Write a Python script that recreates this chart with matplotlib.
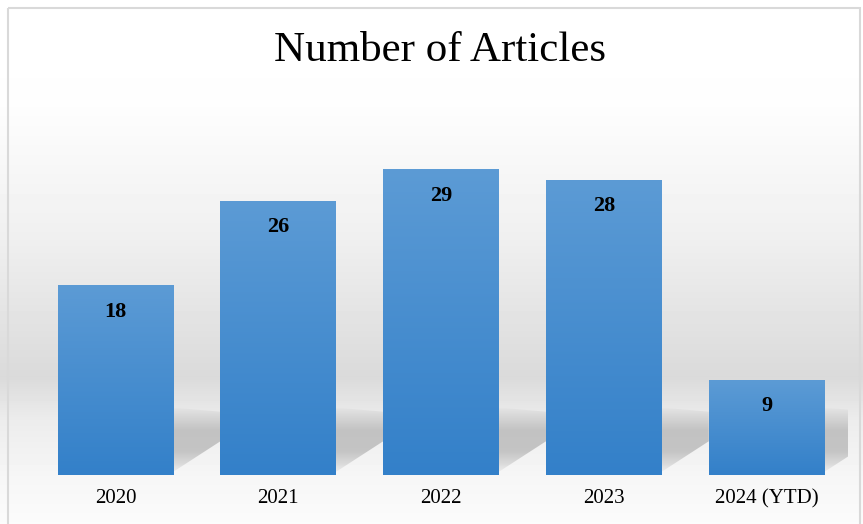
import matplotlib.pyplot as plt
import numpy as np
from matplotlib.colors import LinearSegmentedColormap
from matplotlib.patches import Rectangle, Polygon

years = ["2020", "2021", "2022", "2023", "2024 (YTD)"]
articles = [18, 26, 29, 28, 9]

plt.rcParams['font.family'] = ['Liberation Serif', 'DejaVu Serif']

fig = plt.figure(figsize=(8.63, 5.24), dpi=100)

# chart background: soft vertical grey gradient like the office chart style
bg = fig.add_axes([0, 0, 1, 1], zorder=-10)
bg.set_axis_off()
rows = np.linspace(0, 1, 524)
stops = [0.0, 0.19, 0.45, 0.72, 0.80, 0.91, 1.0]
greys = [1.0, 0.995, 0.94, 0.855, 0.925, 0.965, 0.985]
prof = np.interp(rows, stops, greys)
img = np.repeat(prof[:, None], 10, axis=1)
bg.imshow(img, cmap='gray', vmin=0, vmax=1, aspect='auto', extent=[0, 1, 1, 0])
bg.set_xlim(0, 1)
bg.set_ylim(1, 0)
# border of the chart area
bg.add_patch(Rectangle((8 / 863, 8 / 524), 852 / 863, 1.0, fill=False,
                       edgecolor='#d9d9d9', linewidth=1.5))

ax = fig.add_axes([34 / 863, 49 / 524, 814 / 863, 369 / 524])
ax.patch.set_alpha(0)
for s in ax.spines.values():
    s.set_visible(False)

x = np.arange(len(years))
bars = ax.bar(x, articles, width=0.71, color='none', edgecolor='none')
ax.set_xlim(-0.5, len(years) - 0.5)
ax.set_ylim(0, 35)

cmap = LinearSegmentedColormap.from_list('blu', ['#3380c9', '#5c9bd5'])
grad = np.linspace(0, 1, 256)[:, None]

# shadow texture: dark in the middle, fading upwards and downwards
t = np.linspace(0, 1, 128)
sh_alpha = 0.30 * np.clip(np.minimum(t / 0.35, (1 - t) / 0.35), 0, 1) ** 0.8
sh_rgba = np.zeros((128, 2, 4))
sh_rgba[..., :3] = 0.35
sh_rgba[..., 3] = sh_alpha[:, None]

for b, v in zip(bars, articles):
    x0 = b.get_x()
    w = b.get_width()
    x1 = x0 + w
    # soft shadow cast to the right of the bar foot
    im_sh = ax.imshow(sh_rgba, origin='lower', aspect='auto',
                      extent=[x1, x1 + 0.29, 0, 6.4], zorder=1)
    clip = Polygon([[x1, 0.3], [x1, 6.4], [x1 + 0.29, 6.0], [x1 + 0.29, 3.2]],
                   closed=True, transform=ax.transData)
    im_sh.set_clip_path(clip)
    im = ax.imshow(grad, cmap=cmap, aspect='auto', origin='lower',
                   extent=[x0, x1, 0, v], zorder=2)
    rect = Rectangle((x0, 0), w, v, transform=ax.transData)
    im.set_clip_path(rect)
    ax.text(x0 + w / 2, v - 2.5, str(v), ha='center', va='center',
            fontsize=16, fontweight='bold', color='black', zorder=3)
ax.set_xlim(-0.5, len(years) - 0.5)
ax.set_ylim(0, 35)

ax.set_xticks(x)
ax.set_xticklabels(years, fontsize=15)
ax.tick_params(axis='x', length=0, pad=10)
ax.set_yticks([])

fig.text(440 / 863, 1 - 51 / 524, "Number of Articles", ha='center', va='center', fontsize=31)

plt.savefig('out.png', dpi=100)
